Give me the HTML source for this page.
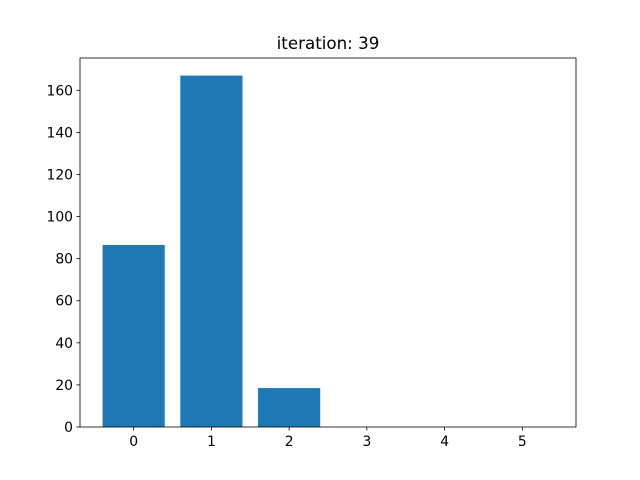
<!DOCTYPE html>
<html><head><meta charset="utf-8"><style>
body{margin:0;background:#fff;}
svg{display:block;font-family:"DejaVu Sans","Liberation Sans",sans-serif;}
</style></head><body>
<svg id="chart" width="640" height="480"></svg>
<script>
const categories=[0,1,2,3,4,5];
const counts=[86.5,167,18.5,0,0,0];
const yTicks=[0,20,40,60,80,100,120,140,160];
const title="iteration: 39";

const svg=document.getElementById('chart');
const NS='http://www.w3.org/2000/svg';
const L=80,R=576,T=58,B=427;
const xmin=-0.69,xmax=5.69;
const ymax=Math.max(...counts)*1.05||1;
const xs=v=>L+(v-xmin)/(xmax-xmin)*(R-L);
const ys=v=>B-v/ymax*(B-T);
function mk(tag,attrs,parent){const e=document.createElementNS(NS,tag);for(const k in attrs)e.setAttribute(k,attrs[k]);(parent||svg).appendChild(e);return e;}

categories.forEach((c,i)=>{
  const r=mk('rect',{x:xs(c-0.4),y:ys(counts[i]),width:xs(c+0.4)-xs(c-0.4),height:B-ys(counts[i]),fill:'#1f77b4'});
  
  
});
const frame=mk('rect',{x:L,y:T,width:R-L,height:B-T,fill:'none',stroke:'#000','stroke-width':0.8});



categories.forEach(c=>{
  const x=xs(c);
  mk('line',{x1:x,x2:x,y1:B,y2:B+3.5,stroke:'#000','stroke-width':0.8});
  const t=mk('text',{x:x,y:B+19,'text-anchor':'middle','font-size':13.9});
  t.textContent=c;
  
  
});
yTicks.forEach(v=>{
  const y=ys(v);
  mk('line',{x1:L-3.5,x2:L,y1:y,y2:y,stroke:'#000','stroke-width':0.8});
  const t=mk('text',{x:L-7,y:y+5,'text-anchor':'end','font-size':13.9});
  t.textContent=v;
  
  
});
const tt=mk('text',{x:(L+R)/2,y:T-9,'text-anchor':'middle','font-size':16.7});
tt.textContent=title;


</script>
</body></html>
